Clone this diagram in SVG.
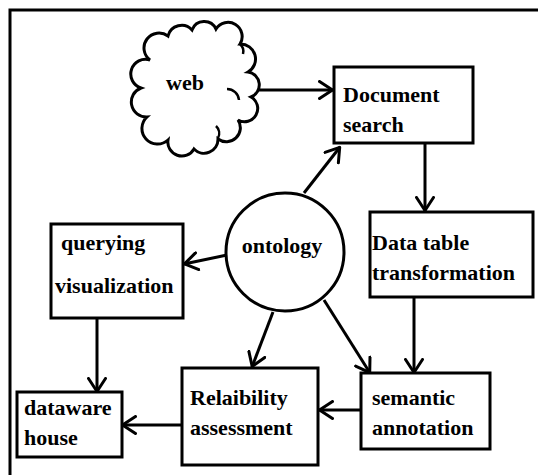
<svg xmlns="http://www.w3.org/2000/svg" width="538" height="475" viewBox="0 0 538 475">
<style>
.box{fill:#fff;stroke:#000;stroke-width:3}
.lbl{font-family:"Liberation Serif","Times New Roman",serif;font-weight:bold;font-size:22px;fill:#000}
.con{fill:none;stroke:#000;stroke-width:3;marker-end:url(#ah)}
</style>
<defs>
<marker id="ah" viewBox="0 0 16 20" refX="15" refY="10" markerWidth="16" markerHeight="20" markerUnits="userSpaceOnUse" orient="auto">
<path d="M1.5,1.5 L14.5,10 L1.5,18.5" fill="none" stroke="#000" stroke-width="3" stroke-linecap="round" stroke-linejoin="round"/>
</marker>
</defs>
<rect width="538" height="475" fill="#fff"/>
<rect x="10" y="10" width="540" height="480" fill="none" stroke="#000" stroke-width="3"/>
<g id="connectors">
<line class="con" x1="254" y1="90" x2="333" y2="90"/>
<line class="con" x1="425" y1="144" x2="425" y2="211"/>
<line class="con" x1="304" y1="193" x2="340" y2="147"/>
<line class="con" x1="227" y1="255" x2="184" y2="264"/>
<line class="con" x1="97" y1="319" x2="97" y2="392"/>
<line class="con" x1="273" y1="312" x2="252" y2="367"/>
<line class="con" x1="324" y1="300" x2="370" y2="373"/>
<line class="con" x1="414" y1="297" x2="414" y2="373"/>
<line class="con" x1="361" y1="410" x2="319" y2="410"/>
<line class="con" x1="182" y1="425" x2="122" y2="425"/>
</g>
<g id="web">
<path d="M150,60 A14,14 0 0 1 168,36 A14,14 0 0 1 192,30 A13,13 0 0 1 216,29 A14,14 0 0 1 240,44 A15,15 0 0 1 248,72 A13,13 0 0 1 251,97 A13,13 0 0 1 238,120 A14,14 0 0 1 218,139 A14,14 0 0 1 194,149 A14,14 0 0 1 168,140 A15,15 0 0 1 147,117 A15,15 0 0 1 141,88 A12,12 0 0 1 150,60 Z" fill="#fff" stroke="#000" stroke-width="3"/>
<path d="M227,89 A12,12 0 0 1 239,100" fill="none" stroke="#000" stroke-width="2.5"/>
<path d="M216,126 A10,10 0 0 1 218,138" fill="none" stroke="#000" stroke-width="2.5"/>
<path d="M240,44 A10,10 0 0 1 243,54" fill="none" stroke="#000" stroke-width="2.5"/>
<text class="lbl" x="166" y="90">web</text>
</g>
<g id="document-search">
<rect class="box" x="334" y="67" width="139" height="76"/>
<text class="lbl" x="343" y="102">Document</text>
<text class="lbl" x="343" y="132">search</text>
</g>
<g id="data-table">
<rect class="box" x="370" y="212" width="163" height="85"/>
<text class="lbl" x="372" y="250">Data table</text>
<text class="lbl" x="372" y="280">transformation</text>
</g>
<g id="ontology">
<circle cx="285" cy="252" r="59" fill="#fff" stroke="#000" stroke-width="3"/>
<text class="lbl" x="282" y="253" text-anchor="middle">ontology</text>
</g>
<g id="querying">
<rect class="box" x="51" y="224" width="132" height="94"/>
<text class="lbl" x="61" y="250">querying</text>
<text class="lbl" x="55" y="293">visualization</text>
</g>
<g id="dataware">
<rect class="box" x="17" y="392" width="105" height="65"/>
<text class="lbl" x="24" y="415">dataware</text>
<text class="lbl" x="24" y="445">house</text>
</g>
<g id="reliability">
<rect class="box" x="182" y="368" width="136" height="97"/>
<text class="lbl" x="190" y="405">Relaibility</text>
<text class="lbl" x="190" y="435">assessment</text>
</g>
<g id="semantic">
<rect class="box" x="361" y="373" width="129" height="76"/>
<text class="lbl" x="372" y="405">semantic</text>
<text class="lbl" x="372" y="435">annotation</text>
</g>
</svg>
